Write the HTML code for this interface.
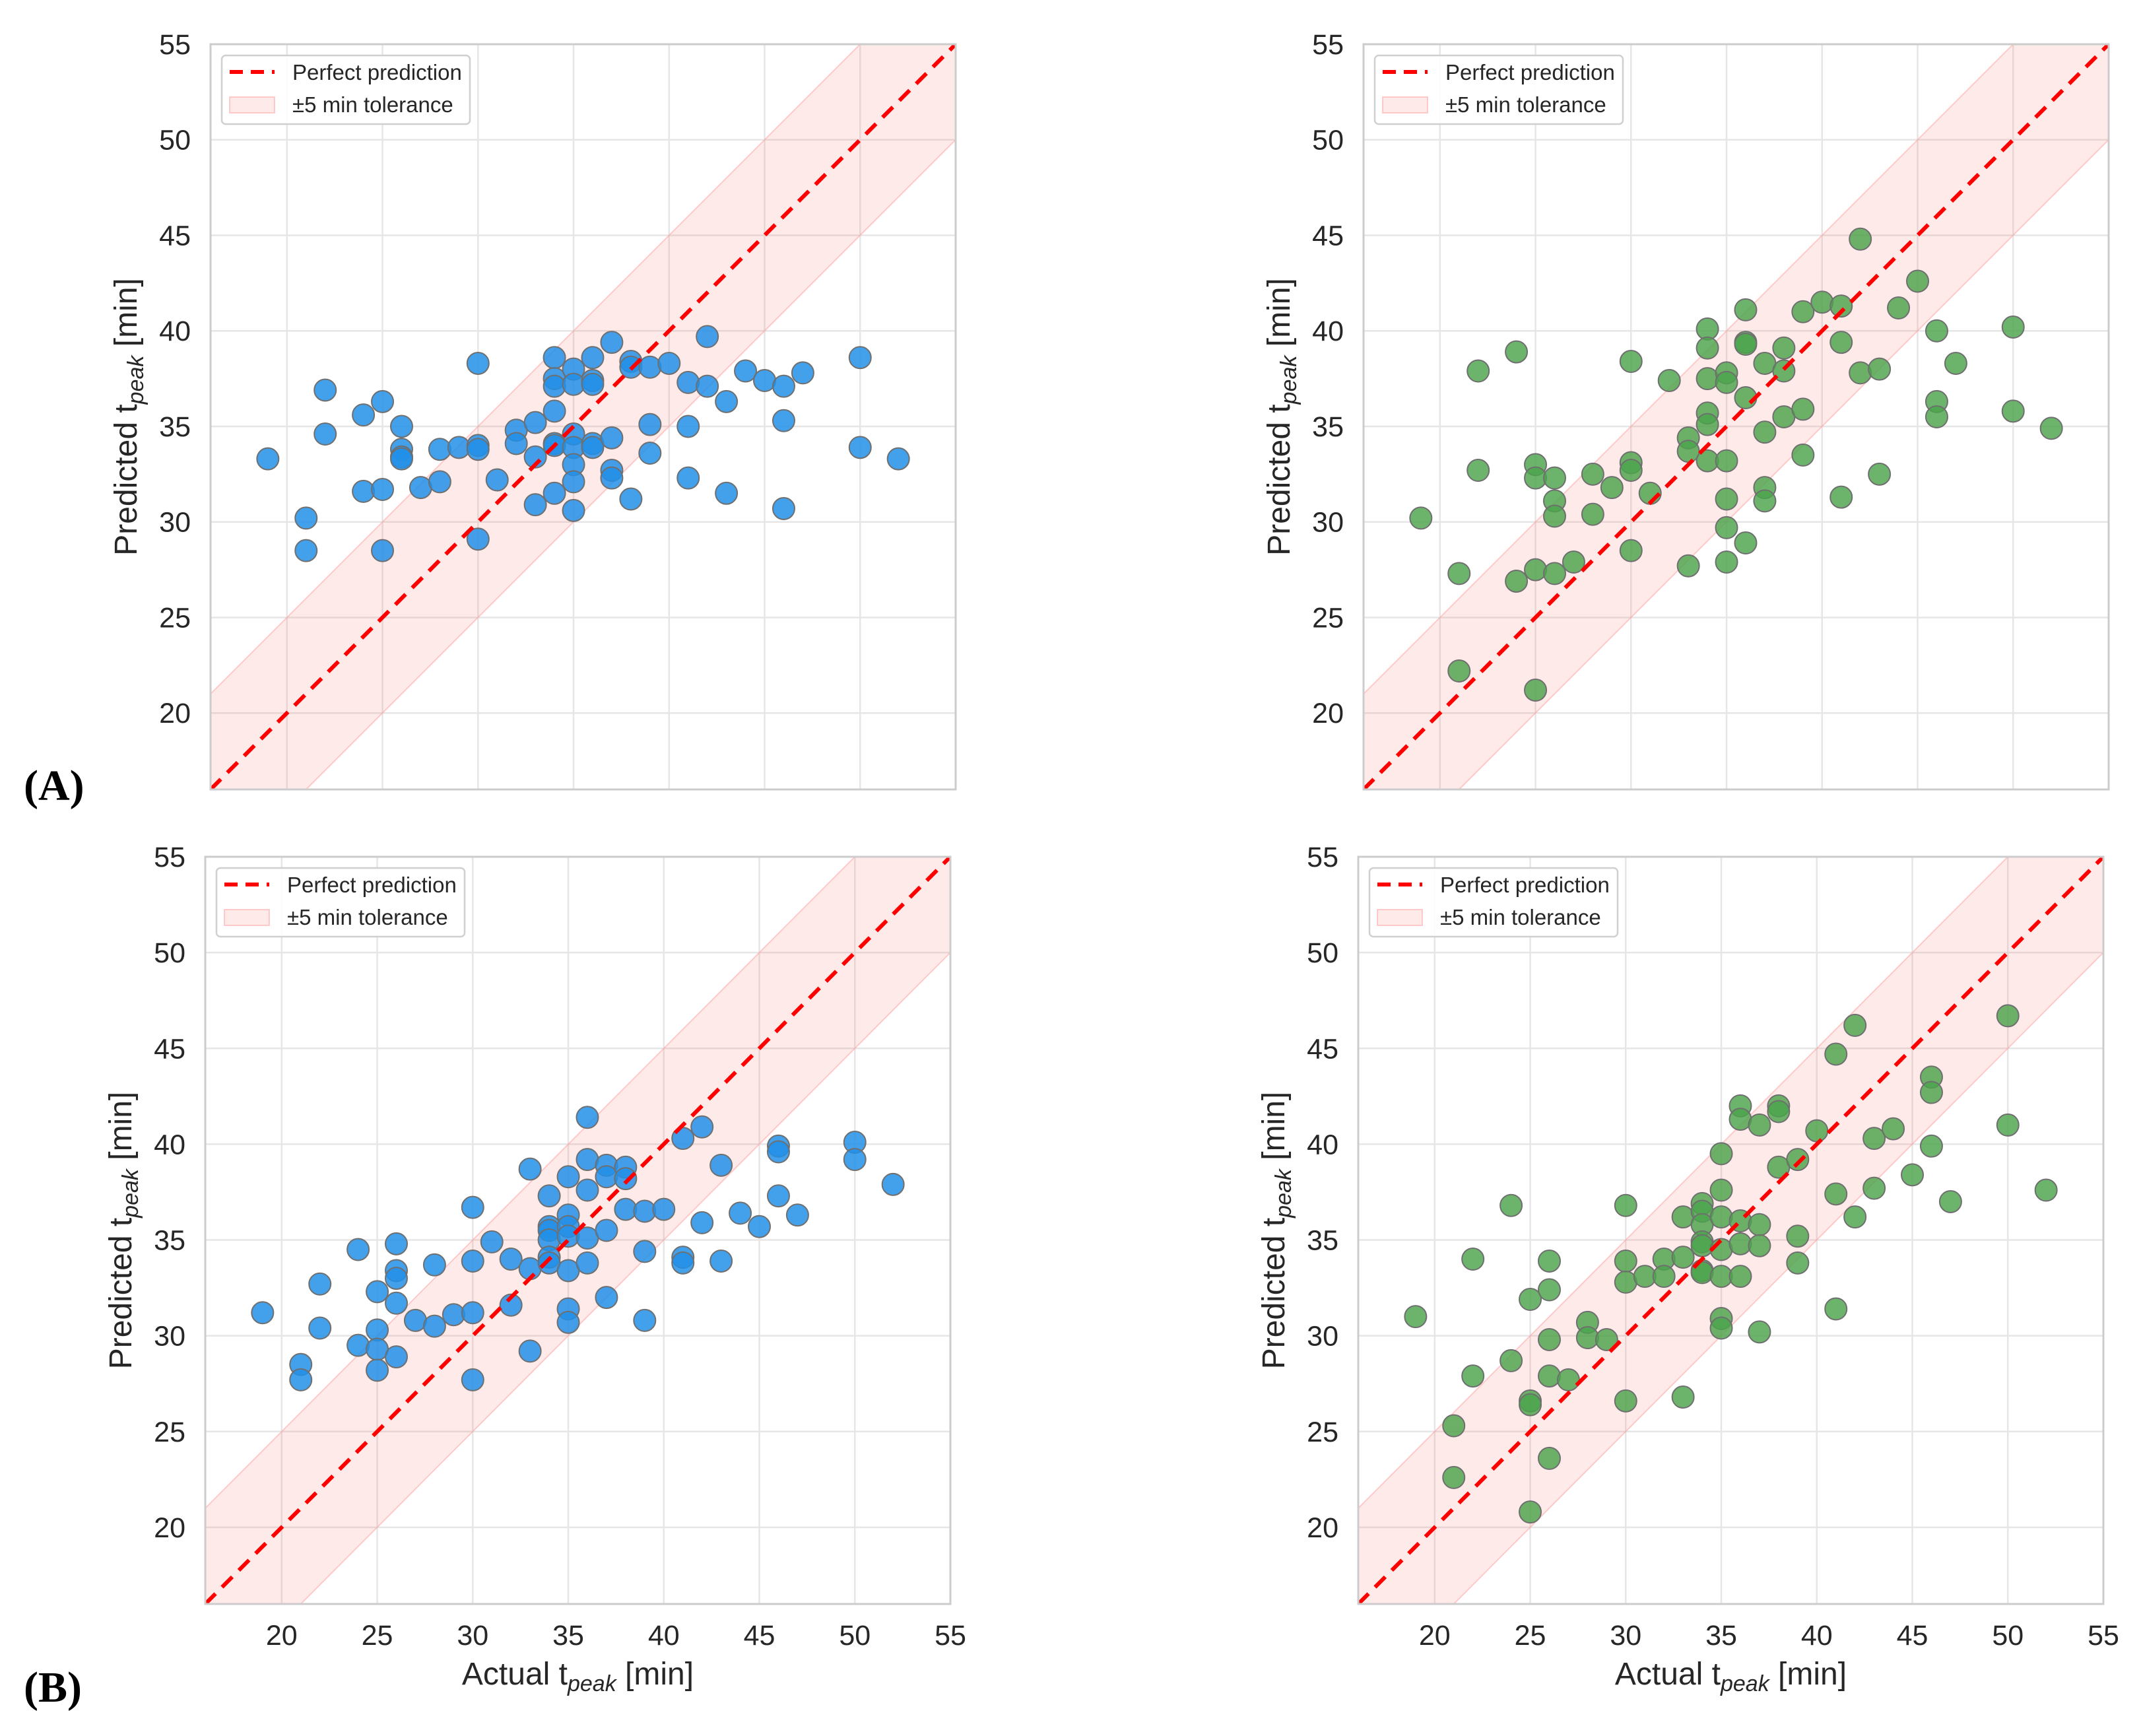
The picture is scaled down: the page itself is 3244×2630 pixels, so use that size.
<!DOCTYPE html>
<html><head><meta charset="utf-8"><style>
html,body{margin:0;padding:0;background:#fff;width:3244px;height:2630px;overflow:hidden;}
svg{display:block;font-family:"Liberation Sans",Arial,sans-serif;}
</style></head><body>
<svg id="fig" width="3244" height="2630" viewBox="0 0 3244 2630" xmlns="http://www.w3.org/2000/svg">
<rect width="3244" height="2630" fill="#fff"/>
<text x="36" y="1212" font-family="Liberation Serif,serif" font-weight="bold" font-size="66">(A)</text>
<text x="36" y="2578" font-family="Liberation Serif,serif" font-weight="bold" font-size="66">(B)</text>
</svg>
<script>
// Panel A-left (blue)
const aLeftX = [19,21,21,22,22,24,24,25,25,25,26,26,26,26,27,28,28,29,30,30,30,30,31,32,32,33,33,33,34,34,34,34,34,34,34,35,35,35,35,35,35,35,36,36,36,36,36,37,37,37,37,38,38,38,39,39,39,40,41,41,41,42,42,43,43,44,45,46,46,46,47,50,50,52];
const aLeftY = [33.3,30.2,28.5,36.9,34.6,35.6,31.6,36.3,31.7,28.5,35.0,33.8,33.4,33.3,31.8,33.8,32.1,33.9,38.3,34.0,33.8,29.1,32.2,34.8,34.1,35.2,33.4,30.9,38.6,37.5,37.1,35.8,34.1,34.0,31.5,38.0,37.2,34.6,33.9,33.0,32.1,30.6,38.6,37.4,37.2,34.1,33.9,39.4,34.4,32.7,32.3,38.4,38.1,31.2,38.1,35.1,33.6,38.3,37.3,35.0,32.3,39.7,37.1,36.3,31.5,37.9,37.4,37.1,35.3,30.7,37.8,38.6,33.9,33.3];
// Panel A-right (green)
const aRightX = [19,21,21,22,22,24,24,25,25,25,25,26,26,26,26,27,28,28,29,30,30,30,30,31,32,33,33,33,34,34,34,34,34,34,35,35,35,35,35,35,36,36,36,36,36,37,37,37,37,38,38,38,39,39,39,40,41,41,41,42,42,43,43,44,45,46,46,46,47,50,50,52];
const aRightY = [30.2,27.3,22.2,37.9,32.7,38.9,26.9,33.0,32.3,27.5,21.2,32.3,31.1,30.3,27.3,27.9,32.5,30.4,31.8,38.4,33.1,32.7,28.5,31.5,37.4,34.4,33.7,27.7,40.1,39.1,37.5,35.7,35.1,33.2,37.8,37.3,33.2,31.2,29.7,27.9,41.1,39.4,39.3,36.5,28.9,38.3,34.7,31.8,31.1,39.1,37.9,35.5,41.0,35.9,33.5,41.5,41.3,39.4,31.3,44.8,37.8,38.0,32.5,41.2,42.6,40.0,36.3,35.5,38.3,40.2,35.8,34.9];
// Panel B-left (blue)
const bLeftX = [19,21,21,22,22,24,24,25,25,25,25,26,26,26,26,26,27,28,28,29,30,30,30,30,31,32,32,33,33,33,34,34,34,34,34,34,35,35,35,35,35,35,35,36,36,36,36,36,37,37,37,37,38,38,38,39,39,39,40,41,41,41,42,42,43,43,44,45,46,46,46,47,50,50,52];
const bLeftY = [31.2,28.5,27.7,32.7,30.4,34.5,29.5,32.3,30.3,29.3,28.2,34.8,33.4,33.0,31.7,28.9,30.8,33.7,30.5,31.1,36.7,33.9,31.2,27.7,34.9,34.0,31.6,38.7,33.5,29.2,37.3,35.7,35.5,35.0,34.1,33.8,38.3,36.3,35.7,35.2,33.4,31.4,30.7,41.4,39.2,37.6,35.1,33.8,38.9,38.3,35.5,32.0,38.8,38.2,36.6,36.5,34.4,30.8,36.6,40.3,34.1,33.8,40.9,35.9,38.9,33.9,36.4,35.7,39.9,39.6,37.3,36.3,40.1,39.2,37.9];
// Panel B-right (green)
const bRightX = [19,21,21,22,22,24,24,25,25,25,25,26,26,26,26,26,27,28,28,29,30,30,30,30,31,32,32,33,33,33,34,34,34,34,34,34,34,35,35,35,35,35,35,35,36,36,36,36,36,37,37,37,37,38,38,38,39,39,39,40,41,41,41,42,42,43,43,44,45,46,46,46,47,50,50,52];
const bRightY = [31.0,25.3,22.6,34.0,27.9,36.8,28.7,31.9,26.6,26.4,20.8,33.9,32.4,29.8,27.9,23.6,27.7,30.7,29.9,29.8,36.8,33.9,32.8,26.6,33.1,34.0,33.1,36.2,34.1,26.8,36.9,36.5,35.8,34.9,34.7,33.4,33.3,39.5,37.6,36.2,34.5,33.1,30.9,30.4,42.0,41.3,36.0,34.8,33.1,41.0,35.8,34.7,30.2,42.0,41.7,38.8,39.2,35.2,33.8,40.7,44.7,37.4,31.4,46.2,36.2,40.3,37.7,40.8,38.4,43.5,42.7,39.9,37.0,46.7,41.0,37.6];
const tickValues = [20,25,30,35,40,45,50,55];
const tickLabels = ["20","25","30","35","40","45","50","55"];
const axisMin = 16, axisMax = 55, tolerance = 5;

const NS = "http://www.w3.org/2000/svg";
const svg = document.getElementById('fig');
function mk(tag, attrs, parent){ const e=document.createElementNS(NS,tag); for(const k in attrs) e.setAttribute(k,attrs[k]); (parent||svg).appendChild(e); return e; }

function drawPanel(id, L, T, W, H, xs, ys, fill, showX){
  const g = mk('g',{});
  
  
  const sx = v => L + (v-axisMin)/(axisMax-axisMin)*W;
  const sy = v => T + H - (v-axisMin)/(axisMax-axisMin)*H;
  const cp = mk('clipPath',{id:id+'-clip'}, g);
  mk('rect',{x:L,y:T,width:W,height:H}, cp);
  const plot = mk('g',{'clip-path':'url(#'+id+'-clip)'}, g);
  tickValues.forEach(t=>{
    const gx = mk('line',{x1:sx(t),x2:sx(t),y1:T,y2:T+H,stroke:'#e6e6e6','stroke-width':2.5}, plot);
    
    
    const gy = mk('line',{x1:L,x2:L+W,y1:sy(t),y2:sy(t),stroke:'#e6e6e6','stroke-width':2.5}, plot);
    
    
  });
  const a=axisMin-10, b=axisMax+10;
  const band = mk('polygon',{points:[[sx(a),sy(a+tolerance)],[sx(b),sy(b+tolerance)],[sx(b),sy(b-tolerance)],[sx(a),sy(a-tolerance)]].map(p=>p.join(',')).join(' '),
    fill:'rgba(255,90,90,0.13)',stroke:'rgba(255,120,120,0.35)','stroke-width':2}, plot);
  
  
  for(let i=0;i<xs.length;i++){
    const c = mk('circle',{cx:sx(xs[i]),cy:sy(ys[i]),r:16.5,fill:fill,stroke:'#6f6f6f','stroke-width':2}, plot);
    
    
  }
  const d = mk('line',{x1:sx(axisMin),y1:sy(axisMin),x2:sx(axisMax),y2:sy(axisMax),stroke:'#ff0000','stroke-width':6,'stroke-dasharray':'22 14'}, plot);
  
  
  const fr = mk('rect',{x:L,y:T,width:W,height:H,fill:'none',stroke:'#cccccc','stroke-width':3}, g);
  
  
  tickValues.forEach((t,i)=>{
    const tx = mk('text',{x:L-30,y:sy(t)+15,'text-anchor':'end','font-size':43,fill:'#262626'}, g);
    tx.textContent = tickLabels[i];
    
    
    if(showX){
      const xt = mk('text',{x:sx(t),y:T+H+62,'text-anchor':'middle','font-size':43,fill:'#262626'}, g);
      xt.textContent = tickLabels[i];
      
      
    }
  });
  const cy = T+H/2, cx = L-128;
  const yl = mk('text',{x:cx,y:cy+16,transform:'rotate(-90 '+cx+' '+cy+')','text-anchor':'middle','font-size':48,fill:'#262626'}, g);
  
  
  yl.innerHTML = 'Predicted t<tspan font-size="34" font-style="italic" dy="10">peak</tspan><tspan dy="-10"> [min]</tspan>';
  if(showX){
    const xl = mk('text',{x:L+W/2,y:T+H+122,'text-anchor':'middle','font-size':48,fill:'#262626'}, g);
    
    
    xl.innerHTML = 'Actual t<tspan font-size="34" font-style="italic" dy="10">peak</tspan><tspan dy="-10"> [min]</tspan>';
  }
  const lg = mk('g',{}, g);
  
  
  const lx = L+17, ly = T+17;
  mk('rect',{x:lx,y:ly,width:376,height:104,rx:6,fill:'rgba(255,255,255,0.92)',stroke:'#d0d0d0','stroke-width':2.5}, lg);
  const ll = mk('line',{x1:lx+12,x2:lx+80,y1:ly+25,y2:ly+25,stroke:'#ff0000','stroke-width':6,'stroke-dasharray':'20 12'}, lg);
  
  
  const t1 = mk('text',{x:lx+107,y:ly+37,'font-size':33,fill:'#262626'}, lg);
  t1.textContent = 'Perfect prediction';
  
  
  const lr = mk('rect',{x:lx+12,y:ly+63,width:68,height:24,fill:'rgba(255,90,90,0.13)',stroke:'rgba(255,120,120,0.35)','stroke-width':2}, lg);
  
  
  const t2 = mk('text',{x:lx+107,y:ly+86,'font-size':33,fill:'#262626'}, lg);
  t2.textContent = '±5 min tolerance';
  
  
}
const blue = 'rgba(34,143,232,0.85)', green = 'rgba(76,164,76,0.82)';
drawPanel('a-left', 319, 67, 1129, 1129, aLeftX, aLeftY, blue, false);
drawPanel('a-right', 2066, 67, 1129, 1129, aRightX, aRightY, green, false);
drawPanel('b-left', 311, 1298, 1129, 1132, bLeftX, bLeftY, blue, true);
drawPanel('b-right', 2058, 1298, 1129, 1132, bRightX, bRightY, green, true);
</script>
</body></html>
